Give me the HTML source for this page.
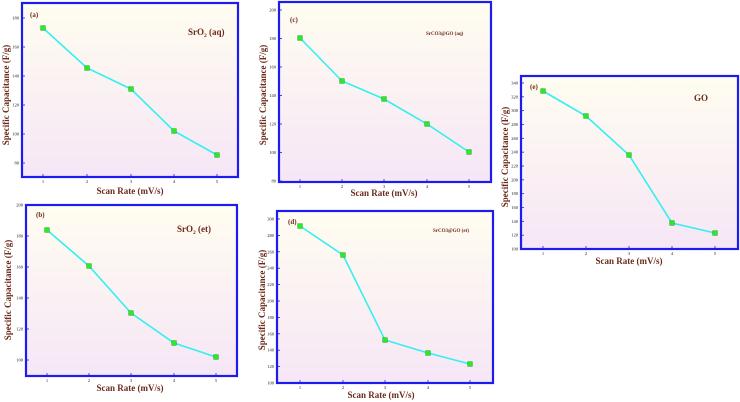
<!DOCTYPE html>
<html><head><meta charset="utf-8"><style>
html,body{margin:0;padding:0;background:#fff;width:740px;height:402px;overflow:hidden}
svg{display:block;font-family:"Liberation Serif",serif}
</style></head><body>
<svg id="s" width="740" height="402" viewBox="0 0 740 402" xmlns="http://www.w3.org/2000/svg">
<defs><linearGradient id="g" x1="0" y1="0" x2="0" y2="1"><stop offset="0" stop-color="#fffdf0"/><stop offset="1" stop-color="#f6e6f6"/></linearGradient></defs>
</svg>
<script>
const s=document.getElementById('s');
function el(t,a,txt){const e=document.createElementNS('http://www.w3.org/2000/svg',t);for(const k in a)e.setAttribute(k,a[k]);if(txt!==undefined)e.textContent=txt;s.appendChild(e);return e;}
function panel(p){
 el('rect',{x:p.l,y:p.t,width:p.r-p.l,height:p.b-p.t,fill:'url(#g)',stroke:'#1c1cf0','stroke-width':2.2});
 // y ticks
 p.yt.forEach(([v,y])=>{el('line',{x1:p.l,x2:p.l+3,y1:y,y2:y,stroke:'#1c1cf0','stroke-width':0.8});
  el('text',{x:p.l-3,y:y+1.5,'font-size':4.5,'text-anchor':'end',fill:'#222'},v);});
 p.xs.forEach((x,i)=>{el('line',{x1:x,x2:x,y1:p.b,y2:p.b-3,stroke:'#1c1cf0','stroke-width':0.8});
  el('text',{x:x,y:p.b+6,'font-size':4.5,'text-anchor':'middle',fill:'#222'},i+1);});
 el('polyline',{points:p.pts.map(q=>q.join(',')).join(' '),fill:'none',stroke:'#33f0f0','stroke-width':1.6});
 p.pts.forEach(([x,y])=>el('rect',{x:x-2.3,y:y-2.3,width:4.6,height:4.6,fill:'#22ee22',stroke:'#119911','stroke-width':0.5}));
 el('text',{x:p.xc,y:p.xl,'font-size':9,'font-weight':'bold','text-anchor':'middle',fill:'#6b2a1a'},'Scan Rate (mV/s)');
 el('text',{x:p.yx,y:p.yc,'font-size':9,'font-weight':'bold','text-anchor':'middle',fill:'#6b2a1a',transform:`rotate(-90 ${p.yx} ${p.yc})`},'Specific Capacitance (F/g)');
 el('text',{x:p.lab[0],y:p.lab[1],'font-size':7,'font-weight':'bold',fill:'#6b2a1a'},p.lab[2]);
 const n=el('text',{x:p.nm[0],y:p.nm[1],'font-size':p.nm[3],'font-weight':'bold',fill:'#6b2a1a'});
 n.innerHTML=p.nm[2];
}
function ticks(vals,y0,y1){return vals.map((v,i)=>[v,y0+(y1-y0)*i/(vals.length-1)]);}
panel({l:22,t:3,r:238,b:177,yt:ticks([180,160,140,120,100,80],18,163),xs:[43,87,131,174,217],
 pts:[[43,28],[87,68],[131,89],[174,131],[217,155]],xc:130,xl:194,yx:9,yc:95,lab:[30,17,'(a)'],
 nm:[188,35,'SrO<tspan font-size="5.5" dy="2">2</tspan><tspan dy="-2"> (aq)</tspan>',9]});
panel({l:279,t:2,r:491,b:182,yt:ticks([200,180,160,140,120,100,80],10,181),xs:[300,342,384,427,469],
 pts:[[300,38],[342,81],[384,99],[427,124],[469,152]],xc:384,xl:196,yx:266,yc:95,lab:[290,22,'(c)'],
 nm:[426,35,'SrCO3@GO (aq)',5]});
panel({l:521,t:76,r:738,b:249,yt:ticks([340,320,300,280,260,240,220,200,180,160,140,120,100],83,249),xs:[543,586,629,672,715],
 pts:[[543,91],[586,116],[629,155],[672,223],[715,233]],xc:629,xl:264,yx:508,yc:157,lab:[530,89,'(e)'],
 nm:[694,101,'GO',9]});
panel({l:26,t:205,r:237,b:376,yt:ticks([200,180,160,140,120,100],205,360),xs:[47,89,131,174,216],
 pts:[[47,230],[89,266],[131,313],[174,343],[216,357]],xc:130,xl:391,yx:11,yc:290,lab:[36,217,'(b)'],
 nm:[177,232,'SrO<tspan font-size="5.5" dy="2">2</tspan><tspan dy="-2"> (et)</tspan>',9]});
panel({l:277,t:211,r:493,b:383,yt:ticks([300,280,260,240,220,200,180,160,140,120,100],219,383),xs:[300,343,385,428,470],
 pts:[[300,226],[343,255],[385,340],[428,353],[470,364]],xc:381,xl:398,yx:265,yc:300,lab:[288,224,'(d)'],
 nm:[433,232,'SrCO3@GO (et)',5]});
</script>
</body></html>
